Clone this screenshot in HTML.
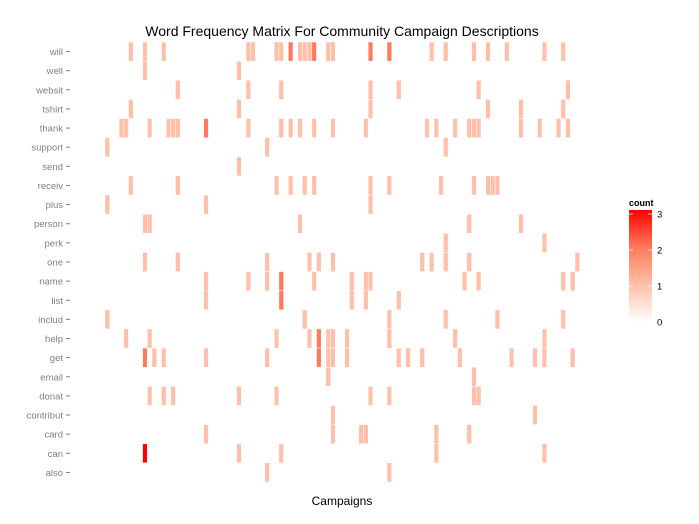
<!DOCTYPE html>
<html><head><meta charset="utf-8"><style>
body{margin:0;background:#fff;font-family:"Liberation Sans",sans-serif}
</style></head><body>
<svg id="chart" width="699" height="519" xmlns="http://www.w3.org/2000/svg" font-family="Liberation Sans, sans-serif">
<defs><linearGradient id="lg" x1="0" y1="1" x2="0" y2="0"><stop offset="0" stop-color="#ffffff"/><stop offset="0.333" stop-color="#ffbfa9"/><stop offset="0.667" stop-color="#ff7a5c"/><stop offset="1" stop-color="#ff0000"/></linearGradient></defs>
<text x="342" y="36" text-anchor="middle" font-size="14" fill="#000">Word Frequency Matrix For Community Campaign Descriptions</text>
<text x="342" y="505" text-anchor="middle" font-size="12" fill="#000">Campaigns</text>
<g id="cells"></g>
<g id="ylab"></g>
<g>
<text x="629" y="206" font-size="9" font-weight="bold">count</text>
<rect x="629" y="210" width="23" height="112" fill="url(#lg)"/>
<g id="leg"></g>
</g>
</svg>
<script>
const words=["will","well","websit","tshirt","thank","support","send","receiv","plus","person","perk","one","name","list","includ","help","get","email","donat","contribut","card","can","also"];
const counts2={"will":[39,44,56,60],"thank":[21],"name":[37],"list":[37],"help":[45],"get":[8,45]};
const counts3={"can":[8]};
const cols={
"will":[5,8,12,30,31,36,37,39,41,42,43,44,47,48,56,60,69,72,78,81,85,93,97],
"well":[8,28],
"websit":[15,30,37,56,62,79,98],
"tshirt":[5,28,56,81,88,97],
"thank":[3,4,9,13,14,15,21,30,37,39,41,44,48,55,68,70,74,77,78,79,88,92,96,98],
"support":[0,34,72],
"send":[28],
"receiv":[5,15,36,39,42,44,56,60,71,78,81,82,83],
"plus":[0,21,56],
"person":[8,9,41,77,88],
"perk":[72,93],
"one":[8,15,34,43,45,48,67,69,72,77,100],
"name":[21,30,34,37,44,52,55,56,76,79,97,99],
"list":[21,37,52,55,62],
"includ":[0,42,60,72,83,97],
"help":[4,9,36,43,45,47,48,51,60,74,93],
"get":[8,10,12,21,34,45,47,48,51,62,64,67,75,86,91,93,99],
"email":[47,78],
"donat":[9,12,14,28,36,56,60,78,79],
"contribut":[48,91],
"card":[21,48,54,55,70,77],
"can":[8,28,37,70,93],
"also":[34,60]};
const legendTicks=[0,1,2,3];
const NS="http://www.w3.org/2000/svg";
const x0=105,pitch=4.7,y0=42,rh=19.13;
const xs=i=>x0+i*pitch, ys=r=>y0+r*rh;
const colors=["#ffffff","#ffbfa9","#ff7a5c","#ff0000"];
const cg=document.getElementById('cells'),yl=document.getElementById('ylab'),lg=document.getElementById('leg');
words.forEach((w,r)=>{
  cols[w].forEach(c=>{
    let v=1;
    if(counts3[w]&&counts3[w].includes(c))v=3;else if(counts2[w]&&counts2[w].includes(c))v=2;
    const el=document.createElementNS(NS,'rect');
    el.setAttribute('x',xs(c));el.setAttribute('y',ys(r));
    el.setAttribute('width',pitch);el.setAttribute('height',rh);
    el.setAttribute('fill',colors[v]);el.setAttribute('stroke','#fff');el.setAttribute('stroke-width','0.5');
    
    
    cg.appendChild(el);
  });
  const t=document.createElementNS(NS,'text');
  t.setAttribute('x',63);t.setAttribute('y',ys(r)+rh/2+3.5);t.setAttribute('text-anchor','end');
  t.setAttribute('font-size','9.5');t.setAttribute('fill','#7f7f7f');t.textContent=w;
  
  
  yl.appendChild(t);
  const k=document.createElementNS(NS,'line');
  k.setAttribute('x1',66);k.setAttribute('x2',70);k.setAttribute('y1',ys(r)+rh/2);k.setAttribute('y2',ys(r)+rh/2);
  k.setAttribute('stroke','#7f7f7f');
  
  
  yl.appendChild(k);
});
legendTicks.forEach(v=>{
  const y=322-v*36;
  const t=document.createElementNS(NS,'text');
  t.setAttribute('x',657);t.setAttribute('y',y+3.5);t.setAttribute('font-size','9.5');t.setAttribute('fill','#000');t.textContent=v;
  
  
  lg.appendChild(t);
  [[629,633],[648,652]].forEach(p=>{
    const l=document.createElementNS(NS,'line');
    l.setAttribute('x1',p[0]);l.setAttribute('x2',p[1]);l.setAttribute('y1',y);l.setAttribute('y2',y);l.setAttribute('stroke','#fff');l.setAttribute('stroke-opacity','0.7');
    
    
    lg.appendChild(l);
  });
});
</script>
</body></html>
